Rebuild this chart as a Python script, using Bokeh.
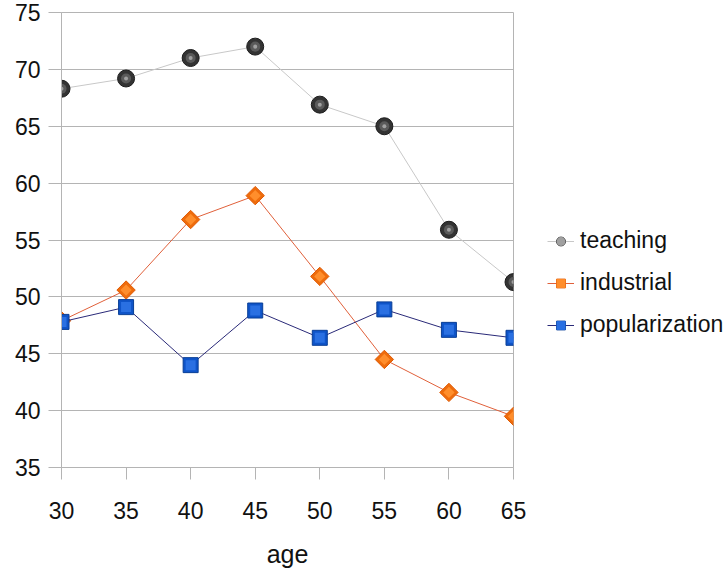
from bokeh.plotting import figure
from bokeh.models import Range1d, Legend, LegendItem, FixedTicker, ColumnDataSource
from bokeh.embed import file_html
from bokeh.resources import INLINE

ages = [30, 35, 40, 45, 50, 55, 60, 65]
teaching = [68.3, 69.2, 71.0, 72.0, 66.9, 65.0, 55.9, 51.3]
industrial = [47.9, 50.6, 56.8, 58.9, 51.8, 44.5, 41.6, 39.5]
popularization = [47.8, 49.1, 44.0, 48.8, 46.4, 48.9, 47.1, 46.4]
y_ticks = [35, 40, 45, 50, 55, 60, 65, 70, 75]

FONT = "Liberation Sans"
GRID = "#b4b4b4"

src = ColumnDataSource(dict(x=ages, t=teaching, i=industrial, p=popularization))

p = figure(frame_width=452, frame_height=455, x_range=Range1d(30, 65), y_range=Range1d(35, 75),
           output_backend="svg", toolbar_location=None,
           min_border_left=61, min_border_right=200, min_border_top=12, min_border_bottom=90)

p.outline_line_color = GRID
p.background_fill_color = "white"
p.border_fill_color = "white"

p.xgrid.grid_line_color = None
p.ygrid.grid_line_color = GRID
p.ygrid.ticker = FixedTicker(ticks=y_ticks)

for ax in (p.xaxis, p.yaxis):
    ax.axis_line_color = GRID
    ax.major_tick_line_color = GRID
    ax.minor_tick_line_color = None
    ax.major_tick_in = 0
    ax.major_label_text_font = FONT
    ax.major_label_text_font_size = "23px"
    ax.major_label_text_color = "#111111"

p.xaxis.ticker = FixedTicker(ticks=ages)
p.yaxis.ticker = FixedTicker(ticks=y_ticks)
p.xaxis.major_tick_out = 12
p.yaxis.major_tick_out = 13
p.xaxis.major_label_standoff = 22
p.yaxis.major_label_standoff = 8
p.xaxis.axis_label = "age"
p.xaxis.axis_label_text_font = FONT
p.xaxis.axis_label_text_font_size = "25px"
p.xaxis.axis_label_text_font_style = "normal"
p.xaxis.axis_label_text_color = "#111111"
p.xaxis.axis_label_standoff = 18

# teaching: grey spheres
l1 = p.line("x", "t", source=src, line_color="#c8c8c8", line_width=1)
t1 = p.scatter("x", "t", source=src, marker="circle", size=17, fill_color="#333333", line_color="#1c1c1c")
t2 = p.scatter("x", "t", source=src, marker="circle", size=10, fill_color="#5a5a5a", line_color=None)
t3 = p.scatter("x", "t", source=src, marker="circle", size=4, fill_color="#a0a0a0", line_color=None)

# industrial: orange diamonds
l2 = p.line("x", "i", source=src, line_color="#e0603a", line_width=1)
i1 = p.scatter("x", "i", source=src, marker="square", angle=0.785398, size=13,
               fill_color="#ee6c0c", line_color="#e05a04")
i2 = p.scatter("x", "i", source=src, marker="square", angle=0.785398, size=8,
               fill_color="#ff8e2c", line_color=None)

# popularization: blue squares
l3 = p.line("x", "p", source=src, line_color="#2a2a78", line_width=1)
s1 = p.scatter("x", "p", source=src, marker="square", size=15, fill_color="#0f54c8", line_color="#0a3f96")
s2 = p.scatter("x", "p", source=src, marker="square", size=10, fill_color="#2a70e2", line_color=None)

legend = Legend(items=[
    LegendItem(label="teaching", renderers=[l1, t1, t2, t3]),
    LegendItem(label="industrial", renderers=[l2, i1, i2]),
    LegendItem(label="popularization", renderers=[l3, s1, s2]),
], location=(34, 129))
legend.border_line_color = None
legend.background_fill_color = None
legend.background_fill_alpha = 0
legend.padding = 0
legend.margin = 0
legend.glyph_width = 27
legend.glyph_height = 22
legend.label_height = 22
legend.spacing = 15
legend.label_standoff = 6
legend.label_text_font = FONT
legend.label_text_font_size = "23px"
legend.label_text_color = "#111111"
p.add_layout(legend, "right")

open("out.html", "w").write(file_html(p, INLINE))
